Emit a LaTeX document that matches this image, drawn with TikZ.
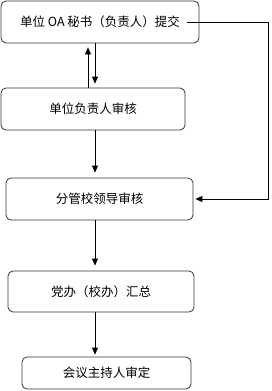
\documentclass[tikz,border=0pt]{standalone}
\usepackage{fontspec}
\setmainfont{Noto Sans CJK SC}
\usetikzlibrary{arrows.meta}
\begin{document}
\begin{tikzpicture}[x=1pt,y=-1pt,
  box/.style={draw=black!80,line width=0.8pt,rounded corners=5pt,inner sep=0pt,font=\fontsize{12.5}{14}\selectfont},
  arr/.style={line width=0.8pt,-{Triangle[length=7pt,width=6pt]}}]
\useasboundingbox (0,0) rectangle (271,391);
\node[box,minimum width=198,minimum height=42] (b1) at (100,22) {单位 OA 秘书（负责人）提交};
\node[box,minimum width=184,minimum height=42] (b2) at (93,109) {单位负责人审核};
\node[box,minimum width=187,minimum height=42] (b3) at (99.5,199) {分管校领导审核};
\node[box,minimum width=186,minimum height=41] (b4) at (101,291.5) {党办（校办）汇总};
\node[box,minimum width=169,minimum height=32] (b5) at (106.5,373) {会议主持人审定};
\coordinate (xa) at (88,0);
\coordinate (xb) at (95,0);
\coordinate (s) at ([xshift=-12]b1.east);
\coordinate (r) at (268,0);
\draw[arr,shorten >=4] (b2.north -| xa) -- (b1.south -| xa);
\draw[arr,shorten >=4] (b1.south -| xb) -- (b2.north -| xb);
\draw[arr,shorten >=5] (b2.south -| xb) -- (b3.north -| xb);
\draw[arr,shorten >=5] (b3.south -| xb) -- (b4.north -| xb);
\draw[arr,shorten >=2] (b4.south -| xb) -- (b5.north -| xb);
\draw[arr,shorten >=2] (s) -- (s -| r) -- (b3.east -| r) -- (b3.east);
\end{tikzpicture}
\end{document}
